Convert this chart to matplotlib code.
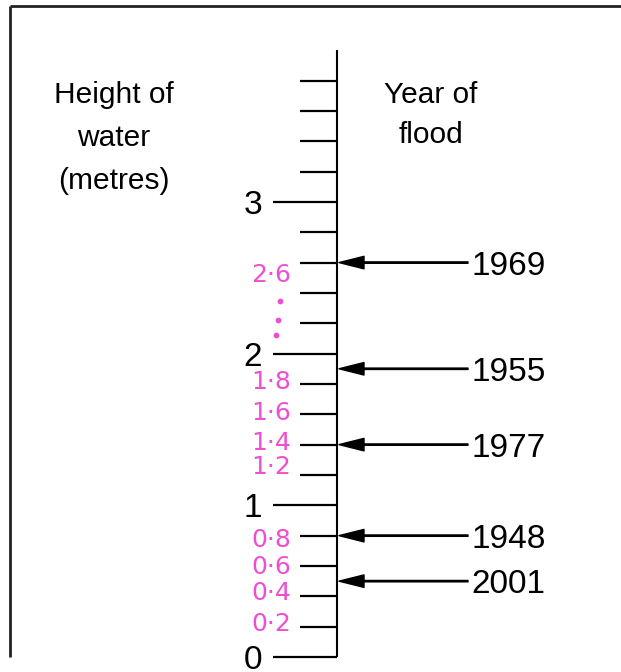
import matplotlib.pyplot as plt

plt.rcParams['font.family'] = ['Liberation Sans', 'DejaVu Sans']

# scale: every 0.2 m from 0 to 3.8, numbered at whole metres
tick_heights = [round(0.2 * i, 1) for i in range(20)]
major_heights = [0, 1, 2, 3]
scale_top = 4.0

# floods pointing at the scale
flood_years = ['1969', '1955', '1977', '1948', '2001']
flood_heights = [2.6, 1.9, 1.4, 0.8, 0.5]

# handwritten pink marks
pink_labels = ['2·6', '1·8', '1·6', '1·4', '1·2', '0·8', '0·6', '0·4', '0·2']
pink_heights = [2.52, 1.81, 1.61, 1.41, 1.25, 0.77, 0.59, 0.42, 0.22]
pink_dot_heights = [2.35, 2.22, 2.12]
pink = '#ee4fd2'

W, H = 621, 672
PX_PER_M = 151.7
ZERO_PX = 657

fig = plt.figure(figsize=(W / 100, H / 100), dpi=100)
ax = fig.add_axes([0, 0, 1, 1])
ax.set_xlim(0, W)
ax.set_ylim(-(H - ZERO_PX) / PX_PER_M, ZERO_PX / PX_PER_M)
ax.axis('off')

AXIS_X = 337

# frame (top and left only)
ax.plot([10 / W, 1], [1 - 6 / H, 1 - 6 / H], color='#222222', lw=2.0,
        transform=ax.transAxes, solid_capstyle='butt')
ax.plot([10 / W, 10 / W], [1 - 6 / H, 1 - ZERO_PX / H], color='#222222',
        lw=2.0, transform=ax.transAxes, solid_capstyle='butt')

# vertical scale
ax.plot([AXIS_X, AXIS_X], [0, scale_top], color='black', lw=1.5,
        solid_capstyle='butt')
for h in tick_heights:
    x0 = 273 if h in major_heights else 300
    ax.plot([x0, AXIS_X], [h, h], color='black', lw=1.6,
            solid_capstyle='butt')
for h in major_heights:
    ax.text(262, h, str(h), fontsize=24, ha='right', va='center_baseline')

# arrows and years
for year, h in zip(flood_years, flood_heights):
    ax.annotate('', xy=(AXIS_X + 2, h), xytext=(468, h),
                arrowprops=dict(facecolor='black', edgecolor='black',
                                width=1.0, headwidth=9, headlength=18,
                                shrink=0))
    ax.text(471, h, year, fontsize=24, ha='left', va='center_baseline')

# headers
for txt, base in zip(['Height of', 'water', '(metres)'], [103, 146, 189]):
    ax.text(114 / W, 1 - base / H, txt, fontsize=21.5, ha='center',
            va='baseline', transform=ax.transAxes)
for txt, base in zip(['Year of', 'flood'], [103, 143]):
    ax.text(431 / W, 1 - base / H, txt, fontsize=21.5, ha='center',
            va='baseline', transform=ax.transAxes)

# pink handwriting
for txt, h in zip(pink_labels, pink_heights):
    ax.text(291, h, txt, fontsize=18, color=pink, ha='right',
            va='center', family=['DejaVu Sans'])
ax.scatter([280, 278, 276], pink_dot_heights, s=10, color=pink)

fig.savefig('out.png', dpi=100)
